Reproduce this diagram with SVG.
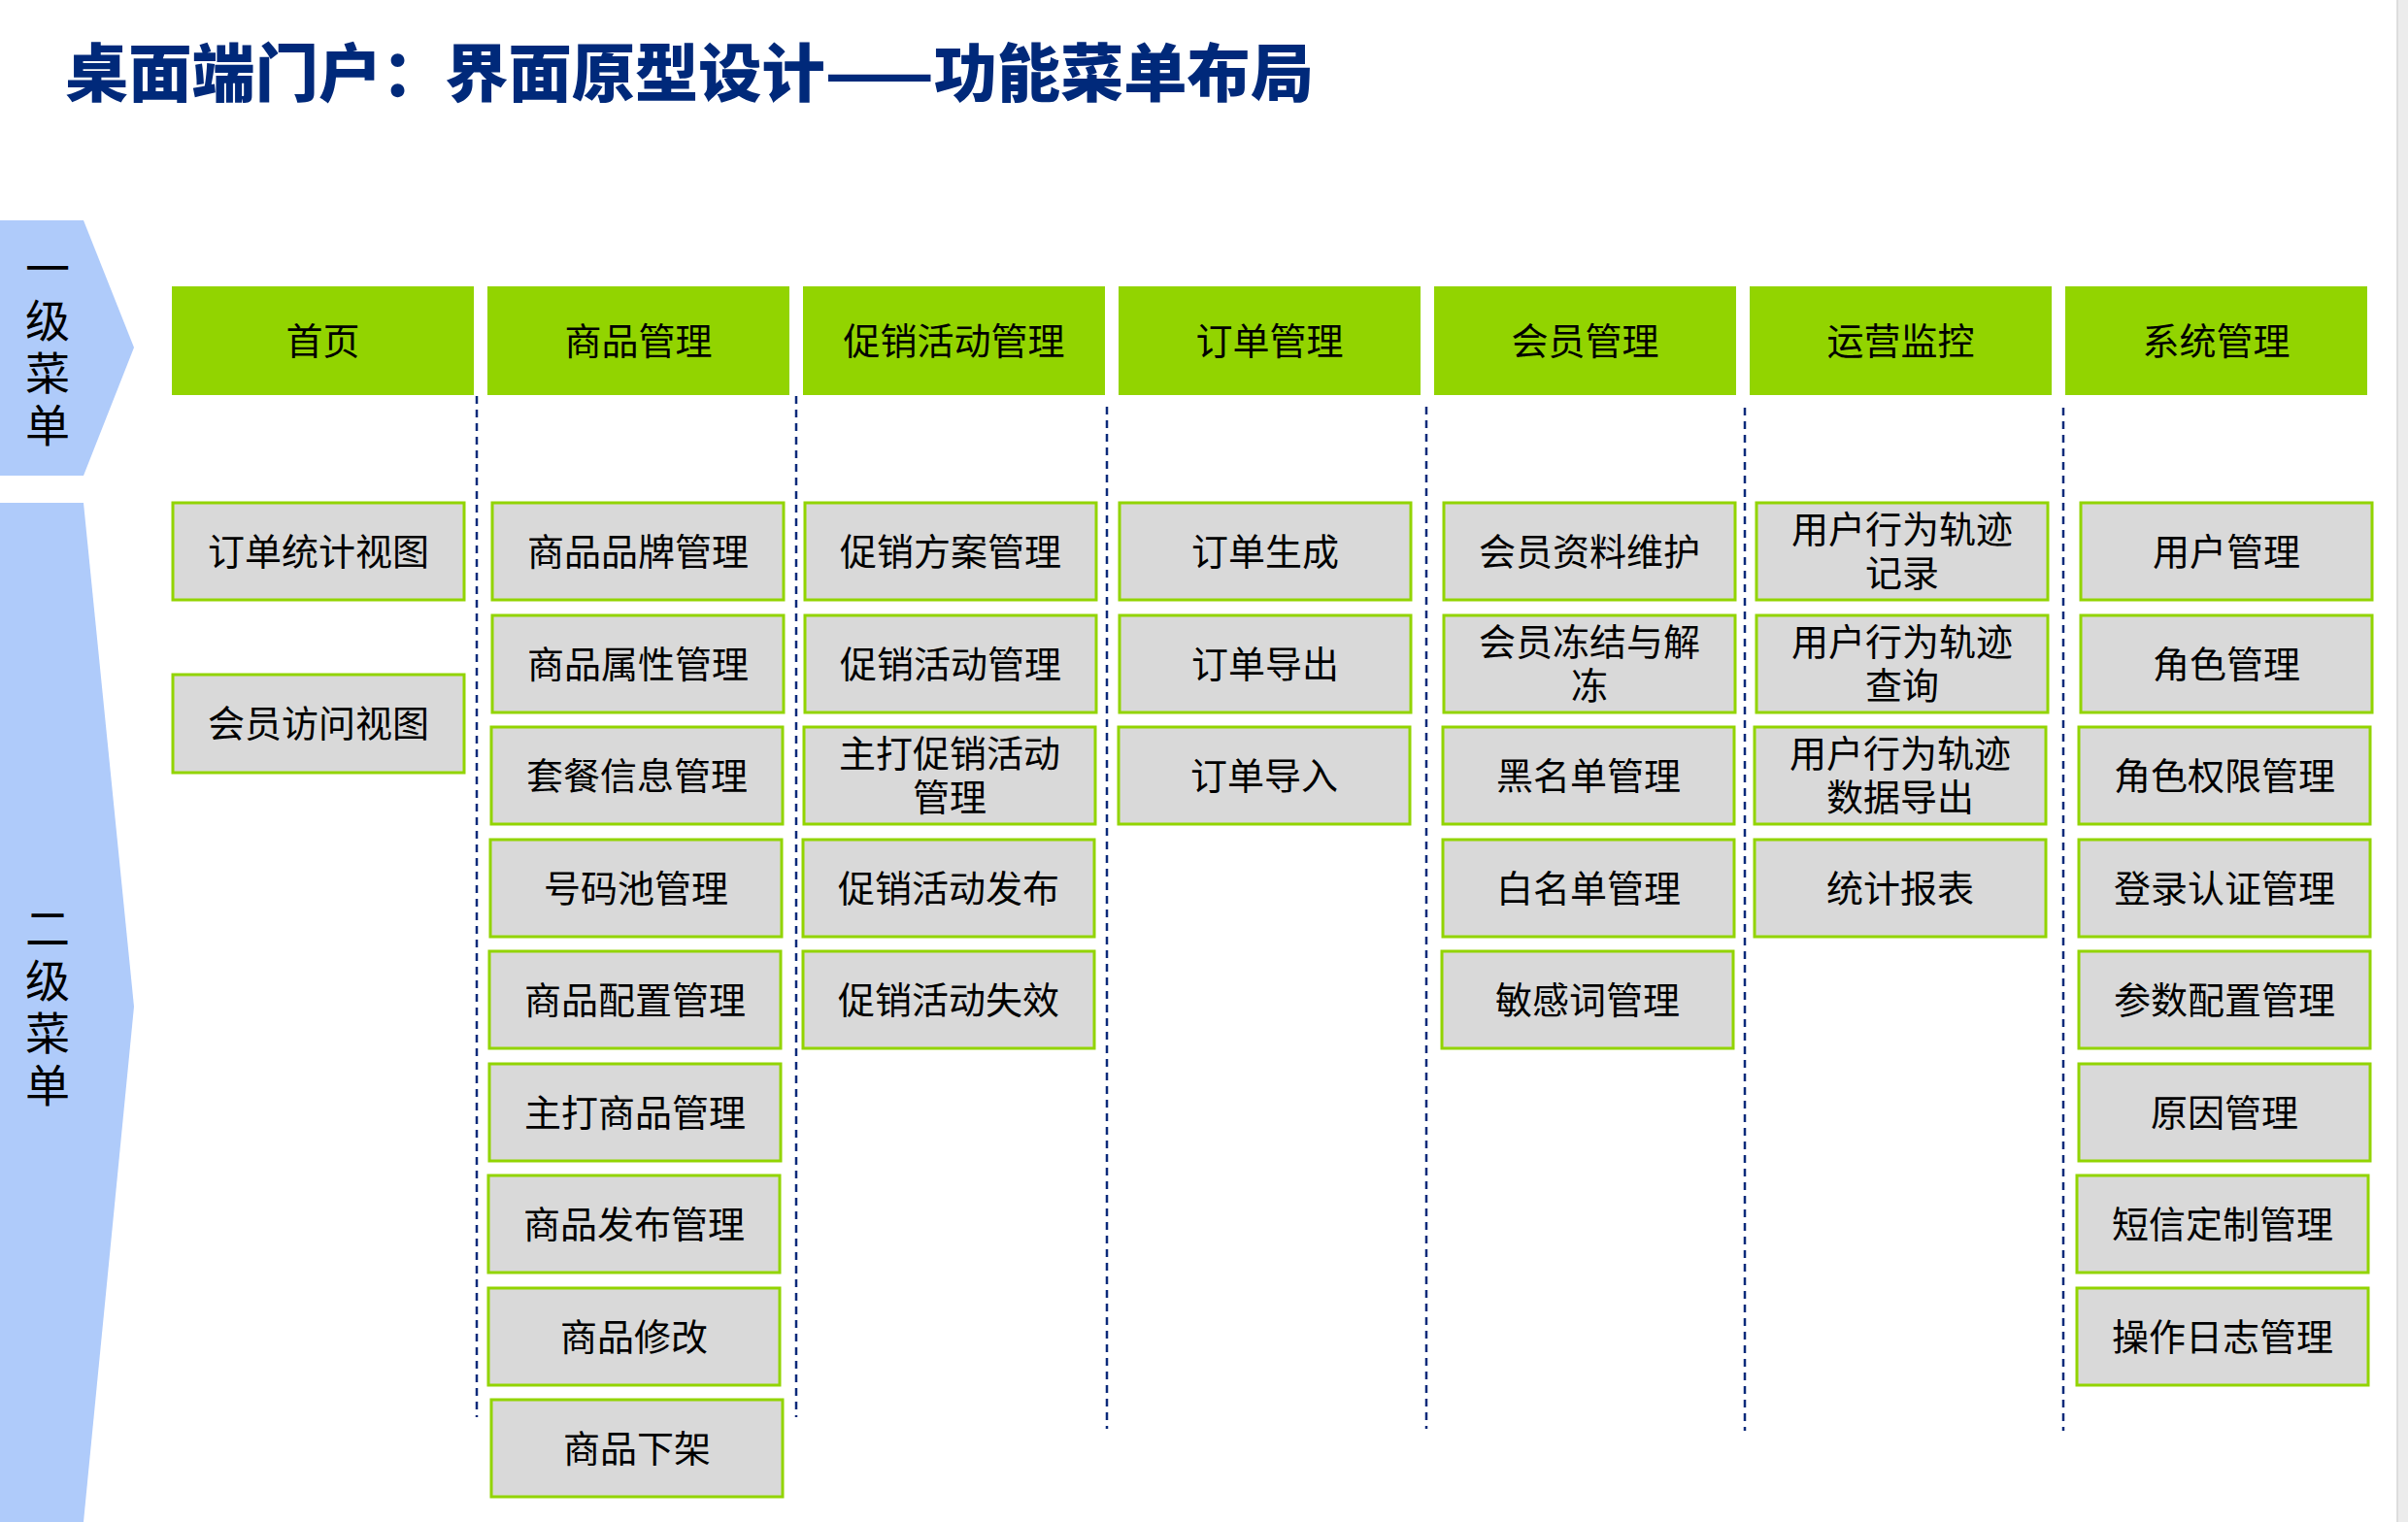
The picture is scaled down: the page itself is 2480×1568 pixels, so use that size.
<svg xmlns="http://www.w3.org/2000/svg" width="2480" height="1568" viewBox="0 0 2480 1568">
<style>
.hdr{fill:#92D400}
.box{fill:#D9D9D9;stroke:#92D400;stroke-width:3}
.t{font-family:"Noto Sans CJK SC","Noto Sans CJK JP",sans-serif;font-size:38px;fill:#000;text-anchor:middle;dominant-baseline:central}
.side{font-family:"Noto Sans CJK SC","Noto Sans CJK JP",sans-serif;font-size:46px;fill:#000;text-anchor:middle;writing-mode:vertical-rl;letter-spacing:8px}
.dash{stroke:#0B2A7A;stroke-width:2.5;stroke-dasharray:8 6;fill:none}
.title{font-family:"Noto Sans CJK SC","Noto Sans CJK JP",sans-serif;font-weight:900;font-size:65px;fill:#00297A;dominant-baseline:central}
</style>
<rect x="0" y="0" width="2480" height="1568" fill="#FFFFFF"/>
<rect x="2469" y="0" width="11" height="1568" fill="#ECECEC"/>
<line x1="2469" y1="0" x2="2469" y2="1568" stroke="#D6D6D6" stroke-width="1.5"/>

<text class="title" x="67" y="71" textLength="1286" lengthAdjust="spacingAndGlyphs">桌面端门户：界面原型设计——功能菜单布局</text>

<g id="level1-label">
<polygon points="0,227 86,227 138,358 86,490 0,490" fill="#AFCBFA"/>
<text class="side" x="49" y="361">一级菜单</text>
</g>
<g id="level2-label">
<polygon points="0,518 86,518 138,1037 86,1568 0,1568" fill="#AFCBFA"/>
<text class="side" x="49" y="1041">二级菜单</text>
</g>

<g id="connectors">
<line class="dash" x1="491" y1="408" x2="491" y2="1460"/>
<line class="dash" x1="820" y1="408" x2="820" y2="1460"/>
<line class="dash" x1="1140" y1="419" x2="1140" y2="1472"/>
<line class="dash" x1="1469" y1="419" x2="1469" y2="1472"/>
<line class="dash" x1="1797" y1="420" x2="1797" y2="1474"/>
<line class="dash" x1="2125" y1="420" x2="2125" y2="1474"/>
</g>

<g id="h-home"><rect class="hdr" x="177" y="295" width="311" height="112"/><text class="t" x="332.5" y="348">首页</text></g>
<g id="h-goods"><rect class="hdr" x="502" y="295" width="311" height="112"/><text class="t" x="657.5" y="348">商品管理</text></g>
<g id="h-promo"><rect class="hdr" x="827" y="295" width="311" height="112"/><text class="t" x="982.5" y="348">促销活动管理</text></g>
<g id="h-order"><rect class="hdr" x="1152" y="295" width="311" height="112"/><text class="t" x="1307.5" y="348">订单管理</text></g>
<g id="h-member"><rect class="hdr" x="1477" y="295" width="311" height="112"/><text class="t" x="1632.5" y="348">会员管理</text></g>
<g id="h-ops"><rect class="hdr" x="1802" y="295" width="311" height="112"/><text class="t" x="1957.5" y="348">运营监控</text></g>
<g id="h-sys"><rect class="hdr" x="2127" y="295" width="311" height="112"/><text class="t" x="2282.5" y="348">系统管理</text></g>

<g id="c1-1"><rect class="box" x="178" y="518" width="300" height="100"/><text class="t" x="328" y="565">订单统计视图</text></g>
<g id="c1-2"><rect class="box" x="178" y="695" width="300" height="101"/><text class="t" x="328" y="742">会员访问视图</text></g>

<g id="c2-1"><rect class="box" x="507" y="518" width="300" height="100"/><text class="t" x="657" y="565">商品品牌管理</text></g>
<g id="c2-2"><rect class="box" x="507" y="634" width="300" height="100"/><text class="t" x="657" y="681">商品属性管理</text></g>
<g id="c2-3"><rect class="box" x="506" y="749" width="300" height="100"/><text class="t" x="656" y="796">套餐信息管理</text></g>
<g id="c2-4"><rect class="box" x="505" y="865" width="300" height="100"/><text class="t" x="655" y="912">号码池管理</text></g>
<g id="c2-5"><rect class="box" x="504" y="980" width="300" height="100"/><text class="t" x="654" y="1027">商品配置管理</text></g>
<g id="c2-6"><rect class="box" x="504" y="1096" width="300" height="100"/><text class="t" x="654" y="1143">主打商品管理</text></g>
<g id="c2-7"><rect class="box" x="503" y="1211" width="300" height="100"/><text class="t" x="653" y="1258">商品发布管理</text></g>
<g id="c2-8"><rect class="box" x="503" y="1327" width="300" height="100"/><text class="t" x="653" y="1374">商品修改</text></g>
<g id="c2-9"><rect class="box" x="506" y="1442" width="300" height="100"/><text class="t" x="656" y="1489">商品下架</text></g>

<g id="c3-1"><rect class="box" x="829" y="518" width="300" height="100"/><text class="t" x="979" y="565">促销方案管理</text></g>
<g id="c3-2"><rect class="box" x="829" y="634" width="300" height="100"/><text class="t" x="979" y="681">促销活动管理</text></g>
<g id="c3-3"><rect class="box" x="828" y="749" width="300" height="100"/><text class="t"><tspan x="978" y="773">主打促销活动</tspan><tspan x="978" y="818">管理</tspan></text></g>
<g id="c3-4"><rect class="box" x="827" y="865" width="300" height="100"/><text class="t" x="977" y="912">促销活动发布</text></g>
<g id="c3-5"><rect class="box" x="827" y="980" width="300" height="100"/><text class="t" x="977" y="1027">促销活动失效</text></g>

<g id="c4-1"><rect class="box" x="1153" y="518" width="300" height="100"/><text class="t" x="1303" y="565">订单生成</text></g>
<g id="c4-2"><rect class="box" x="1153" y="634" width="300" height="100"/><text class="t" x="1303" y="681">订单导出</text></g>
<g id="c4-3"><rect class="box" x="1152" y="749" width="300" height="100"/><text class="t" x="1302" y="796">订单导入</text></g>

<g id="c5-1"><rect class="box" x="1487" y="518" width="300" height="100"/><text class="t" x="1637" y="565">会员资料维护</text></g>
<g id="c5-2"><rect class="box" x="1487" y="634" width="300" height="100"/><text class="t"><tspan x="1637" y="658">会员冻结与解</tspan><tspan x="1637" y="703">冻</tspan></text></g>
<g id="c5-3"><rect class="box" x="1486" y="749" width="300" height="100"/><text class="t" x="1636" y="796">黑名单管理</text></g>
<g id="c5-4"><rect class="box" x="1486" y="865" width="300" height="100"/><text class="t" x="1636" y="912">白名单管理</text></g>
<g id="c5-5"><rect class="box" x="1485" y="980" width="300" height="100"/><text class="t" x="1635" y="1027">敏感词管理</text></g>

<g id="c6-1"><rect class="box" x="1809" y="518" width="300" height="100"/><text class="t"><tspan x="1959" y="542">用户行为轨迹</tspan><tspan x="1959" y="587">记录</tspan></text></g>
<g id="c6-2"><rect class="box" x="1809" y="634" width="300" height="100"/><text class="t"><tspan x="1959" y="658">用户行为轨迹</tspan><tspan x="1959" y="703">查询</tspan></text></g>
<g id="c6-3"><rect class="box" x="1807" y="749" width="300" height="100"/><text class="t"><tspan x="1957" y="773">用户行为轨迹</tspan><tspan x="1957" y="818">数据导出</tspan></text></g>
<g id="c6-4"><rect class="box" x="1807" y="865" width="300" height="100"/><text class="t" x="1957" y="912">统计报表</text></g>

<g id="c7-1"><rect class="box" x="2143" y="518" width="300" height="100"/><text class="t" x="2293" y="565">用户管理</text></g>
<g id="c7-2"><rect class="box" x="2143" y="634" width="300" height="100"/><text class="t" x="2293" y="681">角色管理</text></g>
<g id="c7-3"><rect class="box" x="2141" y="749" width="300" height="100"/><text class="t" x="2291" y="796">角色权限管理</text></g>
<g id="c7-4"><rect class="box" x="2141" y="865" width="300" height="100"/><text class="t" x="2291" y="912">登录认证管理</text></g>
<g id="c7-5"><rect class="box" x="2141" y="980" width="300" height="100"/><text class="t" x="2291" y="1027">参数配置管理</text></g>
<g id="c7-6"><rect class="box" x="2141" y="1096" width="300" height="100"/><text class="t" x="2291" y="1143">原因管理</text></g>
<g id="c7-7"><rect class="box" x="2139" y="1211" width="300" height="100"/><text class="t" x="2289" y="1258">短信定制管理</text></g>
<g id="c7-8"><rect class="box" x="2139" y="1327" width="300" height="100"/><text class="t" x="2289" y="1374">操作日志管理</text></g>
</svg>
